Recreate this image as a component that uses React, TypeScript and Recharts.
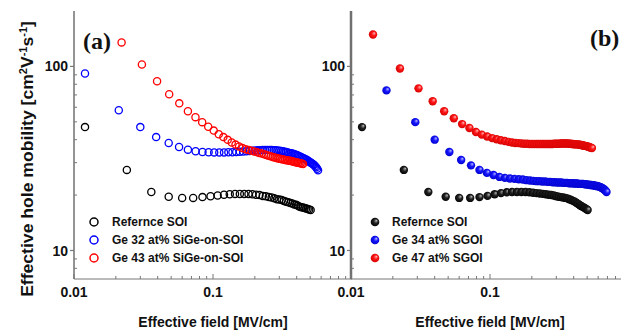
import { ScatterChart, Scatter, XAxis, YAxis } from "recharts";

const AXIS = "#777";
const SANS = "Arial, 'Liberation Sans', Helvetica, sans-serif";
const SERIF = "'Times New Roman', 'Liberation Serif', serif";

// ---- panel (a): SiGe-on-SOI, open symbols ----
const soiFieldA = [0.012, 0.024, 0.036, 0.048, 0.06, 0.072, 0.084, 0.096, 0.108, 0.12, 0.132, 0.144, 0.156, 0.168, 0.18, 0.192, 0.204, 0.216, 0.228, 0.24, 0.252, 0.264, 0.276, 0.288, 0.3, 0.312, 0.324, 0.336, 0.348, 0.36, 0.372, 0.384, 0.396, 0.408, 0.42, 0.432, 0.444, 0.456, 0.468, 0.48, 0.492, 0.504];
const soiMobA = [46.8, 27.4, 20.8, 19.6, 19.3, 19.3, 19.5, 19.7, 19.9, 20.1, 20.2, 20.3, 20.3, 20.3, 20.3, 20.2, 20.1, 20.0, 19.8, 19.7, 19.5, 19.4, 19.2, 19.0, 18.9, 18.8, 18.6, 18.4, 18.3, 18.1, 18.0, 17.8, 17.7, 17.5, 17.3, 17.2, 17.1, 17.0, 16.9, 16.8, 16.7, 16.6];

const ge32Field = [0.012, 0.021, 0.03, 0.039, 0.048, 0.057, 0.066, 0.075, 0.084, 0.093, 0.102, 0.111, 0.12, 0.129, 0.138, 0.147, 0.156, 0.165, 0.174, 0.183, 0.192, 0.201, 0.21, 0.219, 0.228, 0.237, 0.246, 0.255, 0.264, 0.273, 0.282, 0.291, 0.3, 0.309, 0.318, 0.327, 0.336, 0.345, 0.354, 0.363, 0.372, 0.381, 0.39, 0.399, 0.408, 0.417, 0.426, 0.435, 0.444, 0.453, 0.462, 0.471, 0.48, 0.489, 0.498, 0.507, 0.516, 0.525, 0.534, 0.543, 0.552, 0.561, 0.57];
const ge32Mob = [91.6, 57.8, 46.8, 41.3, 38.4, 36.5, 35.3, 34.6, 34.3, 34.2, 34.1, 34.1, 34.1, 34.2, 34.2, 34.3, 34.4, 34.5, 34.6, 34.7, 34.8, 34.9, 35.0, 35.0, 35.1, 35.1, 35.1, 35.1, 35.1, 35.0, 35.0, 34.9, 34.8, 34.7, 34.6, 34.4, 34.3, 34.1, 33.9, 33.8, 33.6, 33.4, 33.2, 33.0, 32.8, 32.5, 32.3, 32.0, 31.8, 31.6, 31.3, 31.1, 30.8, 30.5, 30.2, 30.0, 29.7, 29.4, 29.1, 28.7, 28.3, 27.8, 27.3];

const ge43Field = [0.022, 0.0308, 0.0396, 0.0484, 0.0572, 0.066, 0.0748, 0.0836, 0.0924, 0.1012, 0.11, 0.1188, 0.1276, 0.1364, 0.1452, 0.154, 0.1628, 0.1716, 0.1804, 0.1892, 0.198, 0.2068, 0.2156, 0.2244, 0.2332, 0.242, 0.2508, 0.2596, 0.2684, 0.2772, 0.286, 0.2948, 0.3036, 0.3124, 0.3212, 0.33, 0.3388, 0.3476, 0.3564, 0.3652, 0.374, 0.3828, 0.3916, 0.4004, 0.4092, 0.418, 0.4268, 0.4356, 0.4444];
const ge43Mob = [135, 102.5, 83, 70.6, 63, 57.1, 53, 49.8, 47.0, 44.8, 42.8, 41.3, 39.9, 38.6, 37.6, 36.7, 36.0, 35.5, 35.1, 34.8, 34.5, 34.2, 33.9, 33.6, 33.3, 33.0, 32.7, 32.5, 32.2, 32.0, 31.8, 31.6, 31.5, 31.3, 31.2, 31.0, 30.9, 30.8, 30.7, 30.6, 30.4, 30.3, 30.2, 30.1, 30.0, 29.9, 29.8, 29.6, 29.5];

// ---- panel (b): SGOI, filled symbols ----
const soiFieldB = [0.012, 0.024, 0.036, 0.048, 0.06, 0.072, 0.084, 0.096, 0.108, 0.12, 0.132, 0.144, 0.156, 0.168, 0.18, 0.192, 0.204, 0.216, 0.228, 0.24, 0.252, 0.264, 0.276, 0.288, 0.3, 0.312, 0.324, 0.336, 0.348, 0.36, 0.372, 0.384, 0.396, 0.408, 0.42, 0.432, 0.444, 0.456, 0.468, 0.48, 0.492, 0.504];
const soiMobB = [46.8, 27.4, 20.8, 19.6, 19.3, 19.3, 19.5, 19.8, 20.2, 20.5, 20.7, 20.8, 20.8, 20.8, 20.8, 20.7, 20.6, 20.5, 20.4, 20.3, 20.2, 20.1, 20.0, 19.9, 19.7, 19.6, 19.5, 19.4, 19.3, 19.2, 19.0, 18.8, 18.6, 18.4, 18.1, 17.9, 17.6, 17.4, 17.2, 17.0, 16.8, 16.6];

const ge34Field = [0.018, 0.029, 0.04, 0.051, 0.062, 0.073, 0.084, 0.095, 0.106, 0.117, 0.128, 0.139, 0.15, 0.161, 0.172, 0.183, 0.194, 0.205, 0.216, 0.227, 0.238, 0.249, 0.26, 0.271, 0.282, 0.293, 0.304, 0.315, 0.326, 0.337, 0.348, 0.359, 0.37, 0.381, 0.392, 0.403, 0.414, 0.425, 0.436, 0.447, 0.458, 0.469, 0.48, 0.491, 0.502, 0.513, 0.524, 0.535, 0.546, 0.557, 0.568, 0.579, 0.59, 0.601, 0.612, 0.623, 0.634, 0.645, 0.656, 0.667, 0.678, 0.689];
const ge34Mob = [74.1, 49.8, 40.0, 34.3, 31.0, 29.0, 27.4, 26.4, 25.7, 25.1, 24.8, 24.6, 24.5, 24.4, 24.3, 24.1, 24.0, 23.9, 23.8, 23.8, 23.7, 23.7, 23.6, 23.6, 23.5, 23.5, 23.4, 23.4, 23.4, 23.3, 23.3, 23.3, 23.2, 23.2, 23.2, 23.1, 23.1, 23.1, 23.0, 23.0, 23.0, 23.0, 22.9, 22.9, 22.8, 22.8, 22.7, 22.7, 22.6, 22.6, 22.5, 22.4, 22.4, 22.3, 22.2, 22.1, 21.9, 21.8, 21.6, 21.4, 21.1, 20.8];

const ge47Field = [0.0144, 0.0225, 0.0306, 0.0387, 0.0468, 0.0549, 0.063, 0.0711, 0.0792, 0.0873, 0.0954, 0.1035, 0.1116, 0.1197, 0.1278, 0.1359, 0.144, 0.1521, 0.1602, 0.1683, 0.1764, 0.1845, 0.1926, 0.2007, 0.2088, 0.2169, 0.225, 0.2331, 0.2412, 0.2493, 0.2574, 0.2655, 0.2736, 0.2817, 0.2898, 0.2979, 0.306, 0.3141, 0.3222, 0.3303, 0.3384, 0.3465, 0.3546, 0.3627, 0.3708, 0.3789, 0.387, 0.3951, 0.4032, 0.4113, 0.4194, 0.4275, 0.4356, 0.4437, 0.4518, 0.4599, 0.468, 0.4761, 0.4842, 0.4923, 0.5004, 0.5085, 0.5166, 0.5247, 0.5328, 0.5409];
const ge47Mob = [149, 97.5, 76, 64.7, 57.1, 52.3, 48.6, 46.3, 44.0, 42.6, 41.6, 40.8, 40.2, 39.7, 39.3, 38.9, 38.6, 38.4, 38.3, 38.1, 38.0, 38.0, 37.9, 37.9, 37.9, 37.9, 37.9, 37.9, 37.9, 37.9, 37.9, 37.9, 37.9, 37.9, 38.0, 38.0, 38.0, 38.0, 38.1, 38.1, 38.1, 38.1, 38.1, 38.1, 38.0, 38.0, 37.9, 37.9, 37.8, 37.8, 37.7, 37.7, 37.6, 37.5, 37.4, 37.3, 37.2, 37.1, 37.0, 36.9, 36.8, 36.6, 36.5, 36.3, 36.2, 36.0];

// ---- axes / labels ----
const xMajor = [0.01, 0.1];
const xMinor = [0.02, 0.03, 0.04, 0.05, 0.06, 0.07, 0.08, 0.09, 0.2, 0.3, 0.4, 0.5, 0.6, 0.7, 0.8, 0.9];
const yMajor = [10, 100];
const yMinor = [8, 9, 20, 30, 40, 50, 60, 70, 80, 90];

const legendA = ["Refernce SOI", "Ge 32 at% SiGe-on-SOI", "Ge 43 at% SiGe-on-SOI"];
const legendB = ["Refernce SOI", "Ge 34 at% SGOI", "Ge 47 at% SGOI"];
const COLORS = ["#000000", "#0000ff", "#ff0000"];
const BALLS = ["url(#ballK)", "url(#ballB)", "url(#ballR)"];

const pairs = (xs: number[], ys: number[]) => xs.map((x, i) => ({ x, y: ys[i] }));

const ring = (color: string) => (p: any) =>
  <circle cx={p.cx} cy={p.cy} r={3.6} fill="none" stroke={color} strokeWidth={1.3} />;
const ball = (fill: string) => (p: any) =>
  <circle cx={p.cx} cy={p.cy} r={4.2} fill={fill} />;

const bottomTick = (p: any) => {
  const { x, y, payload } = p;
  const major = xMajor.includes(payload.value);
  return (
    <g>
      <line x1={x} x2={x} y1={y} y2={y - (major ? 5 : 3)} stroke={AXIS} />
      {major && (
        <text x={x} y={y + 18} textAnchor="middle" fontFamily={SANS} fontWeight="bold" fontSize={14} fill="#111">
          {String(payload.value)}
        </text>
      )}
    </g>
  );
};

const topTick = (p: any) => {
  const { x, y, payload } = p;
  const major = xMajor.includes(payload.value);
  return <line x1={x} x2={x} y1={y} y2={y + (major ? 5 : 3)} stroke={AXIS} />;
};

const leftTick = (p: any) => {
  const { x, y, payload } = p;
  const major = yMajor.includes(payload.value);
  return (
    <g>
      {major
        ? <line x1={x - 4} x2={x} y1={y} y2={y} stroke={AXIS} strokeWidth={1.2} />
        : <line x1={x} x2={x + 3} y1={y} y2={y} stroke={AXIS} />}
      {major && (
        <text x={x - 6} y={y} dy="0.36em" textAnchor="end" fontFamily={SANS} fontWeight="bold" fontSize={14} fill="#111">
          {String(payload.value)}
        </text>
      )}
    </g>
  );
};

function Panel({ left, yAxisWidth, children }: any) {
  return (
    <div style={{ position: "absolute", left, top: 0 }}>
      <ScatterChart width={360} height={330} margin={{ top: 11, right: 8, bottom: 21, left: 0 }}>
        <XAxis
          xAxisId="top" orientation="top" type="number" scale="log" domain={[0.01, 1]} allowDataOverflow
          ticks={[...xMajor, ...xMinor]} interval={0} height={0} tickSize={0} tickMargin={0}
          tickLine={false} tick={topTick} axisLine={{ stroke: AXIS, strokeWidth: 1 }}
        />
        <XAxis
          dataKey="x" type="number" scale="log" domain={[0.01, 1]} allowDataOverflow
          ticks={[...xMajor, ...xMinor]} interval={0} height={30} tickSize={0} tickMargin={0}
          tickLine={false} tick={bottomTick} axisLine={{ stroke: AXIS, strokeWidth: 1 }}
        />
        <YAxis
          dataKey="y" type="number" scale="log" domain={[7, 200]} allowDataOverflow
          ticks={[...yMajor, ...yMinor]} interval={0} width={74} tickSize={0} tickMargin={0}
          tickLine={false} tick={leftTick} axisLine={{ stroke: "#707070", strokeWidth: yAxisWidth }}
        />
        {children}
      </ScatterChart>
    </div>
  );
}

export default function App() {
  return (
    <div style={{ position: "absolute", left: 0, top: 0, width: 621, height: 330, overflow: "hidden", background: "#fff" }}>
      <Panel left={0} yAxisWidth={1.5}>
        <Scatter data={pairs(soiFieldA, soiMobA)} shape={ring(COLORS[0])} isAnimationActive={false} />
        <Scatter data={pairs(ge32Field, ge32Mob)} shape={ring(COLORS[1])} isAnimationActive={false} />
        <Scatter data={pairs(ge43Field, ge43Mob)} shape={ring(COLORS[2])} isAnimationActive={false} />
      </Panel>
      <Panel left={277} yAxisWidth={2.5}>
        <Scatter data={pairs(soiFieldB, soiMobB)} shape={ball(BALLS[0])} isAnimationActive={false} />
        <Scatter data={pairs(ge34Field, ge34Mob)} shape={ball(BALLS[1])} isAnimationActive={false} />
        <Scatter data={pairs(ge47Field, ge47Mob)} shape={ball(BALLS[2])} isAnimationActive={false} />
      </Panel>
      <svg width={621} height={330} style={{ position: "absolute", left: 0, top: 0, pointerEvents: "none" }}>
        <defs>
          <radialGradient id="ballK" cx="0.5" cy="0.5" r="0.55" fx="0.68" fy="0.32">
            <stop offset="0%" stopColor="#bbbbbb" />
            <stop offset="45%" stopColor="#222222" />
            <stop offset="100%" stopColor="#000000" />
          </radialGradient>
          <radialGradient id="ballB" cx="0.5" cy="0.5" r="0.55" fx="0.68" fy="0.32">
            <stop offset="0%" stopColor="#b8b8ff" />
            <stop offset="45%" stopColor="#1515ff" />
            <stop offset="100%" stopColor="#0000c8" />
          </radialGradient>
          <radialGradient id="ballR" cx="0.5" cy="0.5" r="0.55" fx="0.68" fy="0.32">
            <stop offset="0%" stopColor="#ffb8b8" />
            <stop offset="45%" stopColor="#ff1515" />
            <stop offset="100%" stopColor="#d00000" />
          </radialGradient>
        </defs>

        <text x={83} y={49} fontFamily={SERIF} fontWeight="bold" fontSize={24} fill="#111">(a)</text>
        <text x={590} y={46} fontFamily={SERIF} fontWeight="bold" fontSize={24} fill="#111">(b)</text>

        <text
          transform="translate(33,159) rotate(-90) scale(1.1,1)"
          textAnchor="middle" fontFamily={SANS} fontWeight="bold" fontSize={16} fill="#111"
        >
          Effective hole mobility [cm<tspan dy={-6} fontSize={10}>2</tspan>
          <tspan dy={6}>V</tspan><tspan dy={-6} fontSize={10}>-1</tspan>
          <tspan dy={6}>s</tspan><tspan dy={-6} fontSize={10}>-1</tspan>
          <tspan dy={6}>]</tspan>
        </text>

        <text x={213} y={327} textAnchor="middle" fontFamily={SANS} fontWeight="bold" fontSize={14} fill="#111">Effective field [MV/cm]</text>
        <text x={490} y={327} textAnchor="middle" fontFamily={SANS} fontWeight="bold" fontSize={14} fill="#111">Effective field [MV/cm]</text>

        {legendA.map((name, i) => (
          <g key={"a" + i}>
            <circle cx={94} cy={222 + i * 18} r={4} fill="none" stroke={COLORS[i]} strokeWidth={1.5} />
            <text x={112} y={226 + i * 18} fontFamily={SANS} fontWeight="bold" fontSize={12} fill="#111">{name}</text>
          </g>
        ))}
        {legendB.map((name, i) => (
          <g key={"b" + i}>
            <circle cx={375} cy={222 + i * 18} r={4.3} fill={BALLS[i]} />
            <text x={392} y={226 + i * 18} fontFamily={SANS} fontWeight="bold" fontSize={12} fill="#111">{name}</text>
          </g>
        ))}
      </svg>
    </div>
  );
}
